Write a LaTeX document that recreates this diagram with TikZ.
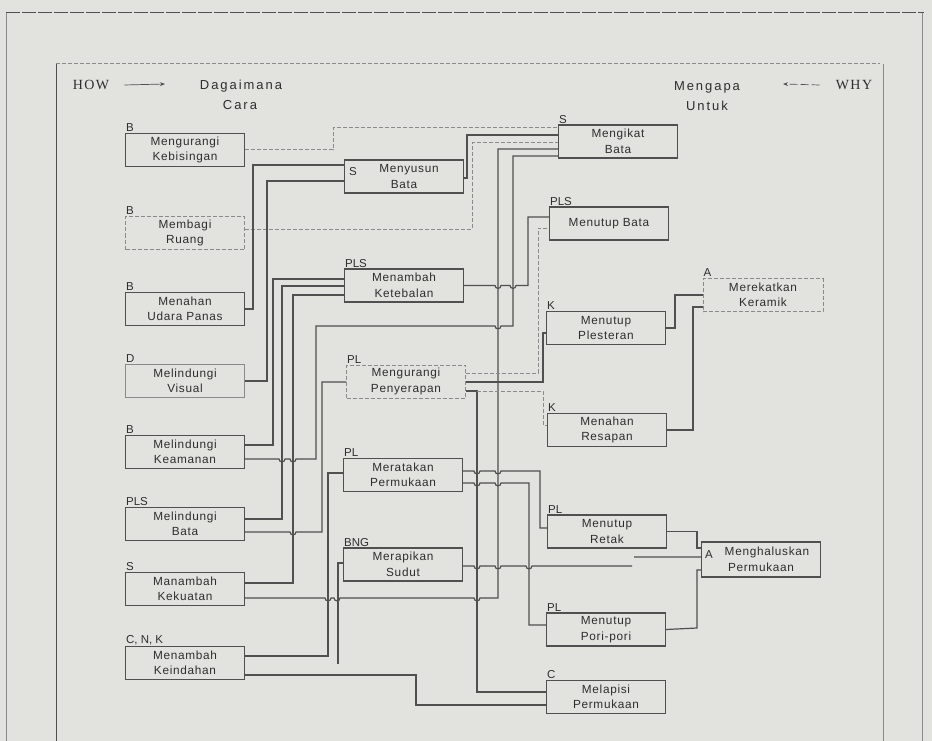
\documentclass[tikz,border=0pt]{standalone}
\usepackage{fontspec}
\usetikzlibrary{arrows.meta}
\setmainfont{Liberation Sans}
\newfontfamily\bxfont[LetterSpace=6]{Liberation Sans}
\newfontfamily\hdfont[LetterSpace=15]{Liberation Sans}
\newfontfamily\sefont[LetterSpace=10]{Liberation Serif}
\definecolor{bg}{HTML}{E2E2DF}
\definecolor{ink}{HTML}{2E2E2E}
\definecolor{lnc}{HTML}{505050}
\definecolor{fnt}{HTML}{8A8A8A}
\begin{document}
\begin{tikzpicture}[x=1pt,y=-1pt,
 box/.style={draw=lnc, line width=1.2pt, minimum width=119pt, minimum height=33pt, inner sep=0pt, align=center, text=ink, font=\bxfont\fontsize{11.8}{15.5}\selectfont},
 fbox/.style={box, draw=fnt, line width=1pt, dash pattern=on 4pt off 2pt},
 tag/.style={anchor=south west, inner sep=1pt, text=ink, font=\fontsize{11.5}{12}\selectfont},
 ln/.style={draw=lnc, line width=1.2pt},
 fl/.style={draw=fnt, line width=1pt, dash pattern=on 4pt off 2pt},
 hd/.style={text=ink, font=\hdfont\fontsize{13}{15}\selectfont, inner sep=0pt},
 jp/.style={out=-90,in=-90,looseness=1.6}]
\fill[bg] (0,0) rectangle (932,741);
\useasboundingbox (0,0) rectangle (932,741);
% frames
\draw[draw=lnc, line width=1pt, dash pattern=on 14pt off 2pt] (6,13) -- (924,13);
\draw[draw=fnt, line width=0.7pt] (6,13) -- (6,741) (922,13) -- (922,741);
\draw[fl] (56,64) -- (880,64);
\draw[draw=lnc, line width=0.8pt] (56,64) -- (56,741);
\draw[draw=fnt, line width=0.8pt] (883,64) -- (883,741);
% header
\node[text=ink, font=\sefont\fontsize{14}{15}\selectfont, inner sep=0pt] (how) at (91,85) {HOW};
\coordinate (howtip) at (165,84);
\draw[ln, line width=0.7pt, -{Stealth[length=5pt]}] ([xshift=15pt]how.east) -- (howtip);
\node[hd] (bg1) at (241,86) {Dagaimana};
\node[hd] (bg2) at (240,105) {Cara};
\node[hd] (mg1) at (707,87) {Mengapa};
\node[hd] (mg2) at (707,106) {Untuk};
\node[text=ink, font=\sefont\fontsize{14}{15}\selectfont, inner sep=0pt] (why) at (854,85) {WHY};
\coordinate (whytip) at (783,84);
\draw[ln, line width=0.7pt, dash pattern=on 8pt off 3pt, -{Stealth[length=5pt]}] ([xshift=-16pt]why.west) -- (whytip);
% left column
\node[box] (kb) at (185,150) {Mengurangi\\Kebisingan};
\node[fbox] (ru) at (185,233) {Membagi\\Ruang};
\node[box] (up) at (185,309) {Menahan\\Udara Panas};
\node[box, draw=fnt] (vi) at (185,381) {Melindungi\\Visual};
\node[box] (ke) at (185,452) {Melindungi\\Keamanan};
\node[box] (mb) at (185,524) {Melindungi\\Bata};
\node[box] (kk) at (185,589) {Manambah\\Kekuatan};
\node[box] (ki) at (185,663) {Menambah\\Keindahan};
% middle column
\node[box] (sb) at (404,176.5) {\hspace*{10pt}Menyusun\\Bata};
\node[box] (kt) at (404,285.5) {Menambah\\Ketebalan};
\node[fbox] (pn) at (406,381.5) {Mengurangi\\Penyerapan};
\node[box] (rp) at (403,475) {Meratakan\\Permukaan};
\node[box] (rs) at (403,564.5) {Merapikan\\Sudut};
% right column
\node[box] (ib) at (618,141.5) {Mengikat\\Bata};
\node[box] (tb) at (609,223.5) {Menutup Bata};
\node[box] (tp) at (606,328) {Menutup\\Plesteran};
\node[box] (rr) at (607,430) {Menahan\\Resapan};
\node[box] (rt) at (607,531.5) {Menutup\\Retak};
\node[box] (pp) at (606,629.5) {Menutup\\Pori-pori};
\node[box] (lp) at (606,697) {Melapisi\\Permukaan};
% far right
\node[fbox, minimum width=120pt] (rk) at (763,295) {Merekatkan\\Keramik};
\node[box, minimum height=35pt] (mh) at (761,559.5) {\hspace*{12pt}Menghaluskan\\Permukaan};
% tags
\node[tag] (tkb) at (kb.north west) {B};
\node[tag] (tru) at (ru.north west) {B};
\node[tag] (tup) at (up.north west) {B};
\node[tag] (tvi) at (vi.north west) {D};
\node[tag] (tke) at (ke.north west) {B};
\node[tag] (tmb) at (mb.north west) {PLS};
\node[tag] (tkk) at (kk.north west) {S};
\node[tag] (tki) at (ki.north west) {C, N, K};
\node[tag, anchor=west] (tsb) at ([xshift=4pt,yshift=5pt]sb.west) {S};
\node[tag] (tkt) at (kt.north west) {PLS};
\node[tag] (tpn) at (pn.north west) {PL};
\node[tag] (trp) at (rp.north west) {PL};
\node[tag] (trs) at (rs.north west) {BNG};
\node[tag] (tib) at (ib.north west) {S};
\node[tag] (ttb) at (tb.north west) {PLS};
\node[tag] (ttp) at (tp.north west) {K};
\node[tag] (trr) at (rr.north west) {K};
\node[tag] (trt) at (rt.north west) {PL};
\node[tag] (tpp) at (pp.north west) {PL};
\node[tag] (tlp) at (lp.north west) {C};
\node[tag] (trk) at (rk.north west) {A};
\node[tag, anchor=west] (tmh) at ([xshift=3pt,yshift=5pt]mh.west) {A};
% connectors left -> middle / right
\draw[fl] (kb.east) -- (333,150) -- (333,128) -- (ib.west |- 0,128);
\draw[fl] (ru.east |- 0,229) -- (472,229) -- (472,143) -- (ib.west |- 0,143);
\draw[ln] (up.east) -- (253,309) -- (253,165) -- (sb.west |- 0,165);
\draw[ln] (vi.east) -- (267,381) -- (267,181) -- (sb.west |- 0,181);
\draw[ln] (ke.east |- 0,445) -- (273,445) -- (273,279) -- (kt.west |- 0,279);
\draw[ln] (mb.east |- 0,519) -- (282,519) -- (282,286) -- (kt.west |- 0,286);
\draw[ln] (kk.east |- 0,583) -- (293,583) -- (293,295) -- (kt.west |- 0,295);
\draw[ln] (ke.east |- 0,459) -- (279,459) to[jp] (285,459) -- (290,459) to[jp] (296,459) -- (316,459) -- (316,326) -- (495,326) to[jp] (501,326) -- (513,326) -- (513,156) -- (ib.west |- 0,156);
\draw[ln] (mb.east |- 0,532) -- (290,532) to[jp] (296,532) -- (322,532) -- (322,382) -- (pn.west |- 0,382);
\draw[ln] (ki.east |- 0,656) -- (328,656) -- (328,473) -- (rp.west |- 0,473);
\draw[ln] (kk.east |- 0,598) -- (325,598) to[jp] (331,598) -- (334,598) to[jp] (340,598) -- (474,598) to[jp] (480,598) -- (498,598) -- (498,149) -- (ib.west |- 0,149);
\coordinate (rsend) at (338,664);
\draw[ln] (rs.west |- 0,563) -- (338,563) -- (rsend);
\draw[ln] (ki.east |- 0,675) -- (416,675) -- (416,705) -- (lp.west |- 0,705);
% middle -> right
\draw[ln] (sb.east |- 0,178) -- (467,178) -- (467,135) -- (ib.west |- 0,135);
\draw[ln] (kt.east) -- (495,285.5) to[jp] (501,285.5) -- (510,285.5) to[jp] (516,285.5) -- (528,285.5) -- (528,217) -- (tb.west |- 0,217);
\draw[fl] (pn.east |- 0,373) -- (538,373) -- (538,228) -- (tb.west |- 0,228);
\draw[ln] (pn.east |- 0,382) -- (543,382) -- (543,333) -- (tp.west |- 0,333);
\draw[ln] (pn.east |- 0,391) -- (477,391) -- (477,692) -- (lp.west |- 0,692);
\draw[fl] (477,391) -- (543,391) -- (543,425) -- (rr.west |- 0,425);
\draw[ln] (rp.east |- 0,471) -- (474,471) to[jp] (480,471) -- (495,471) to[jp] (501,471) -- (540,471) -- (540,528) -- (rt.west |- 0,528);
\draw[ln] (rp.east |- 0,483) -- (474,483) to[jp] (480,483) -- (495,483) to[jp] (501,483) -- (529,483) -- (529,625) -- (pp.west |- 0,625);
\draw[ln] (rs.east |- 0,566) -- (474,566) to[jp] (480,566) -- (495,566) to[jp] (501,566) -- (526,566) to[jp] (532,566) -- (632,566) (634,557) -- (mh.west |- 0,557);
% right -> far right
\draw[ln] (tp.east) -- (675,328) -- (675,295) -- (rk.west |- 0,295);
\draw[ln] (rr.east) -- (693,430) -- (693,307) -- (rk.west |- 0,307);
\draw[ln] (rt.east) -- (697,531.5) -- (697,548) -- (mh.west |- 0,548);
\draw[ln] (pp.east) -- (697,628) -- (697,570) -- (mh.west |- 0,570);
\end{tikzpicture}
\end{document}
